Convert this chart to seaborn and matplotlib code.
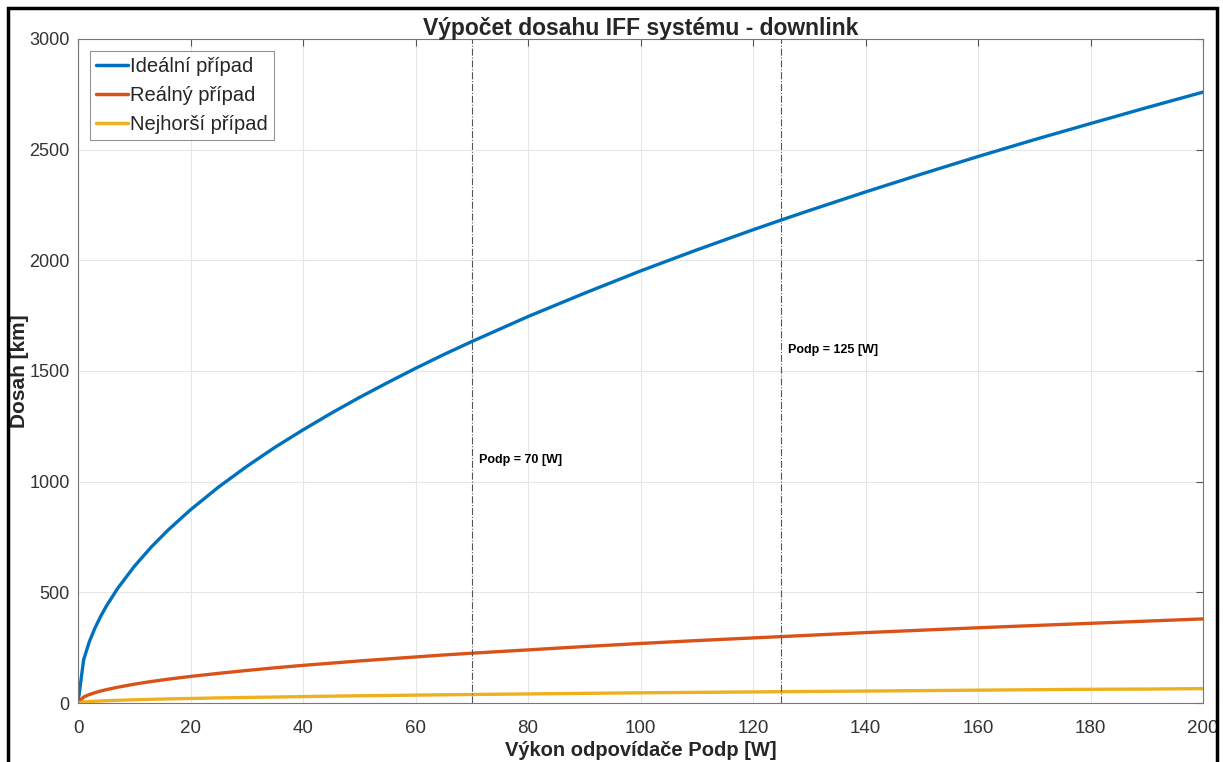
import matplotlib
matplotlib.use("Agg")
import matplotlib.pyplot as plt
import seaborn as sns
import pandas as pd
from matplotlib.patches import Rectangle

# Values
vykon = [0, 1, 2, 3, 4, 5, 7, 10, 13, 16, 20, 25, 30, 35, 40, 45, 50, 55, 60,
         65, 70, 80, 90, 100, 110, 120, 125, 130, 140, 150, 160, 170, 180, 190, 200]
idealni = [0, 195, 276, 338, 390, 436, 516, 617, 704, 781, 873, 976, 1069, 1155,
           1234, 1309, 1380, 1447, 1512, 1574, 1633, 1746, 1851, 1952, 2047,
           2138, 2182, 2225, 2309, 2390, 2469, 2545, 2618, 2690, 2760]
realny = [0, 27, 38, 46.5, 54, 60, 71, 85, 97, 107.5, 120, 134, 147, 159, 170,
          180, 190, 199, 208, 217, 225, 240, 255, 269, 282, 294, 300, 306, 318,
          329, 340, 350, 360, 370, 380]
nejhorsi = [0, 4.6, 6.5, 8, 9.2, 10.3, 12.2, 14.5, 16.6, 18.4, 20.5, 23, 25, 27,
            29, 31, 32.5, 34, 35.6, 37, 38.5, 41, 43.6, 46, 48, 50, 51, 52, 54,
            56, 58, 60, 62, 63, 65]
pripady = ['Ideální případ', 'Reálný případ', 'Nejhorší případ']
barvy = ['#0072BD', '#D95319', '#EDB120']
vyznacene = [70, 125]
popisky = ['Podp = 70 [W]', 'Podp = 125 [W]']
popisky_y = [1100, 1595]

df = pd.DataFrame({'Podp': vykon, pripady[0]: idealni,
                   pripady[1]: realny, pripady[2]: nejhorsi})
df_long = df.melt(id_vars=['Podp'], var_name='Případ', value_name='Dosah')

sns.set_style('whitegrid')
plt.rcParams['font.family'] = ['Liberation Sans', 'DejaVu Sans']

fig = plt.figure(figsize=(12.23, 7.62), dpi=100)
ax = fig.add_axes([78 / 1223, 1 - 703 / 762, 1125 / 1223, 664 / 762])

sns.lineplot(data=df_long, x='Podp', y='Dosah', hue='Případ',
             palette=barvy, linewidth=2.4, ax=ax)

for x, t, ty in zip(vyznacene, popisky, popisky_y):
    ax.axvline(x, color='#555555', linestyle='-.', linewidth=0.8)
    ax.text(x + 1.3, ty, t, fontsize=9, fontweight='bold', color='black',
            va='center', ha='left')

ax.set_xlim(0, 200)
ax.set_ylim(0, 3000)
ax.set_xticks(range(0, 201, 20))
ax.set_yticks(range(0, 3001, 500))
ax.grid(True, color='#e6e6e6', linewidth=0.8)
for s in ax.spines.values():
    s.set_color('#777777')
    s.set_linewidth(0.8)
ax.tick_params(direction='in', length=5, color='#555555', labelsize=13.5,
               labelcolor='#333333', top=True, right=True)
ax.tick_params(axis='x', pad=12)
ax.tick_params(axis='y', pad=6, labelsize=13)

ax.set_title('Výpočet dosahu IFF systému - downlink', fontsize=16.5,
             fontweight='bold', pad=3)
ax.set_xlabel('Výkon odpovídače Podp [W]', fontsize=14.5, fontweight='bold',
              labelpad=3)
ax.set_ylabel('Dosah [km]', fontsize=15, fontweight='bold')
ax.yaxis.set_label_coords(-0.0435, 0.5)

leg = ax.legend(loc='upper left', fontsize=14.5, frameon=True, fancybox=False,
                edgecolor='#777777', handlelength=1.6, handletextpad=0.1,
                borderpad=0.3, labelspacing=0.5, borderaxespad=0.6)
leg.get_frame().set_linewidth(0.8)
for line in leg.get_lines():
    line.set_linewidth(2.5)

# outer frame around the figure (bottom edge cut off in the original)
fig.patches.append(Rectangle((8 / 1223, -0.05), 1209 / 1223, 1.05 - 8 / 762,
                             transform=fig.transFigure, fill=False,
                             edgecolor='black', linewidth=2.5))

fig.savefig('out.png', dpi=100)
